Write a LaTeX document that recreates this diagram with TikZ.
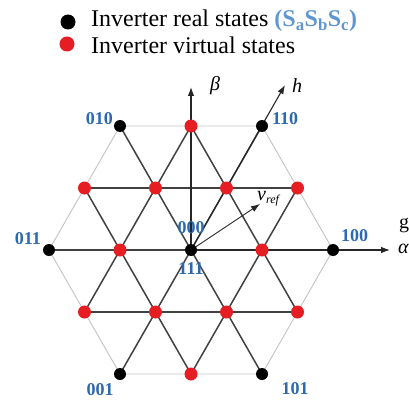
\documentclass[tikz,border=0pt]{standalone}
\usepackage{fontspec}
\setmainfont{Liberation Serif}
\usetikzlibrary{arrows.meta}
\definecolor{lblue}{RGB}{45,105,175}
\definecolor{sblue}{RGB}{95,150,210}
\definecolor{dline}{RGB}{65,65,65}
\definecolor{hline}{RGB}{195,195,195}
\definecolor{vred}{RGB}{230,30,35}
\tikzset{
  realdot/.style={circle,fill=black,inner sep=0pt,minimum size=12pt},
  virtdot/.style={circle,fill=vred,inner sep=0pt,minimum size=13pt},
  legdot/.style={circle,inner sep=0pt,minimum size=15pt},
  darkline/.style={draw=dline,line width=1.5pt},
  hexline/.style={draw=hline,line width=0.9pt},
  axisarrow/.style={draw=black!85,line width=1.1pt,-{Latex[length=9pt,width=6.5pt]}},
  statelbl/.style={text=lblue,font=\fontsize{18}{20}\selectfont\bfseries,inner sep=0pt},
  axislbl/.style={font=\fontsize{20}{22}\selectfont\itshape,inner sep=0pt},
  legtext/.style={font=\fontsize{24}{27}\selectfont,anchor=west,inner sep=0pt}
}
\begin{document}
\begin{tikzpicture}[x=1pt,y=-1pt]
\useasboundingbox (0,0) rectangle (409,401);
% lattice points
\coordinate (C) at (191,250);
\coordinate (b100) at (333,250);
\coordinate (b011) at (49,250);
\coordinate (b110) at (262,126);
\coordinate (b010) at (120,126);
\coordinate (b101) at (262,374);
\coordinate (b001) at (120,374);
\coordinate (rT) at (191,126);
\coordinate (rB) at (191,374);
\coordinate (rL) at (120,250);
\coordinate (rR) at (262,250);
\coordinate (rUL1) at (84.5,188);
\coordinate (rUL2) at (155.5,188);
\coordinate (rUR2) at (226.5,188);
\coordinate (rUR1) at (297.5,188);
\coordinate (rDL1) at (84.5,312);
\coordinate (rDL2) at (155.5,312);
\coordinate (rDR2) at (226.5,312);
\coordinate (rDR1) at (297.5,312);
\coordinate (aEnd) at (390,250);
\coordinate (bEnd) at (191,87);
\coordinate (hEnd) at (285,85);
\coordinate (vEnd) at (260,204);
% hexagon
\draw[hexline] (b100) -- (b110) -- (b010) -- (b011) -- (b001) -- (b101) -- cycle;
% dark lines
\draw[darkline] (b011) -- (b100);
\draw[darkline] (rUL1) -- (rUR1);
\draw[darkline] (rDL1) -- (rDR1);
\draw[darkline] (b010) -- (b101);
\draw[darkline] (b110) -- (b001);
\draw[darkline] (rT) -- (rDL1);
\draw[darkline] (rT) -- (rDR1);
\draw[darkline] (rB) -- (rUL1);
\draw[darkline] (rB) -- (rUR1);
% axes and vectors
\draw[axisarrow] (C) -- (aEnd);
\draw[axisarrow] (C) -- (bEnd);
\draw[axisarrow] (C) -- (hEnd);
\draw[axisarrow,line width=0.9pt] (C) -- (vEnd);
% dots
\foreach \p in {b100,b011,b110,b010,b101,b001}
  \node[realdot] (n\p) at (\p) {};
\node[realdot] (nC) at (C) {};
\foreach \p in {rT,rB,rL,rR,rUL1,rUL2,rUR2,rUR1,rDL1,rDL2,rDR2,rDR1}
  \node[virtdot] (n\p) at (\p) {};
% state labels
\node[statelbl,anchor=east] (l010) at (113,119) {010};
\node[statelbl,anchor=west] (l110) at (272,119) {110};
\node[statelbl,anchor=east] (l011) at (41,239) {011};
\node[statelbl,anchor=west] (l100) at (341,236) {100};
\node[statelbl] (l000) at (191,228) {000};
\node[statelbl] (l111) at (191,269) {111};
\node[statelbl] (l001) at (100,390) {001};
\node[statelbl] (l101) at (295,389) {101};
% axis labels
\node[axislbl] (lbeta) at (215,86) {β};
\node[axislbl] (lh) at (297,86) {h};
\node[axislbl,anchor=west] (lv) at (257,199) {v\raisebox{-0.35ex}{\fontsize{12}{12}\selectfont ref}};
\node[font=\fontsize{20}{22}\selectfont,anchor=west,inner sep=0pt] (lg) at (399,226) {g};
\node[axislbl,anchor=west] (lalpha) at (398,249) {α};
% legend
\node[legdot,fill=black] (legb) at (68,22) {};
\node[legdot,fill=vred] (legr) at (67,44) {};
\node[legtext] (legt1) at (91,21) {Inverter real states \textcolor{sblue}{\bfseries (S\textsubscript{a}S\textsubscript{b}S\textsubscript{c})}};
\node[legtext] (legt2) at (91,45) {Inverter virtual states};
\end{tikzpicture}
\end{document}
